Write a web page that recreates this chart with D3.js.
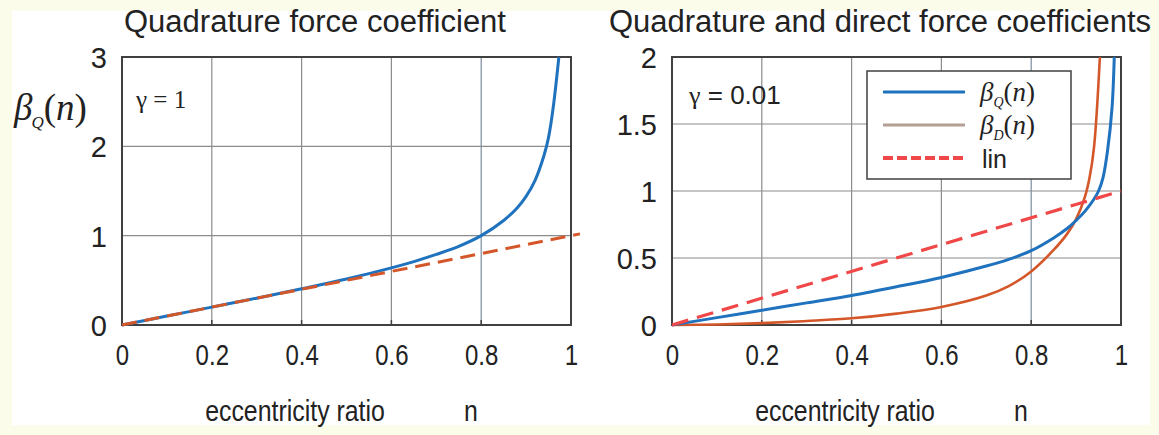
<!DOCTYPE html>
<html><head><meta charset="utf-8">
<script src="https://cdn.jsdelivr.net/npm/d3@7"></script>
<style>
body{margin:0;background:#fcfcea;}
svg{display:block;}
text{font-family:"Liberation Sans",Arial,sans-serif;fill:#222;}
.serif{font-family:"Liberation Serif","Times New Roman",serif;}
</style></head><body>
<script>
// ---- data ----
const xTicks = [0, 0.2, 0.4, 0.6, 0.8, 1];
const xTickLabels = ["0", "0.2", "0.4", "0.6", "0.8", "1"];
const leftYTicks = [0, 1, 2, 3];
const leftYTickLabels = ["0", "1", "2", "3"];
const rightYTicks = [0, 0.5, 1, 1.5, 2];
const rightYTickLabels = ["0", "0.5", "1", "1.5", "2"];

// left panel: gamma = 1
const leftQn = [0,0.1,0.2,0.3,0.4,0.5,0.6,0.65,0.7,0.75,0.8,0.85,0.88,0.9,0.92,0.94,0.95,0.96,0.973];
const leftQv = [0,0.1,0.2,0.3,0.405,0.515,0.64,0.71,0.79,0.88,1.0,1.17,1.31,1.44,1.62,1.9,2.1,2.42,3.0];
const leftLinN = [0, 1.02];
const leftLinV = [0, 1.02];

// right panel: gamma = 0.01
const rightQn = [0,0.1,0.2,0.3,0.4,0.5,0.6,0.7,0.75,0.8,0.85,0.88,0.9,0.92,0.94,0.95,0.96,0.97,0.98,0.985];
const rightQv = [0,0.055,0.11,0.165,0.22,0.285,0.355,0.44,0.49,0.555,0.65,0.72,0.78,0.85,0.94,1.0,1.1,1.3,1.62,2.0];
const rightDn = [0,0.1,0.2,0.3,0.4,0.5,0.6,0.7,0.75,0.8,0.85,0.88,0.9,0.92,0.93,0.94,0.953];
const rightDv = [0,0.004,0.014,0.03,0.05,0.085,0.135,0.22,0.29,0.4,0.56,0.68,0.79,0.96,1.1,1.33,2.0];
const rightLinN = [0, 1];
const rightLinV = [0, 1];

const titles = ["Quadrature force coefficient", "Quadrature and direct force coefficients"];
const xLabel = "eccentricity ratio";
const legendLabels = ["Q", "D", "lin"];

const W = 1159, H = 435;
const svg = d3.select("body").append("svg").attr("width", W).attr("height", H);

// background frame
svg.append("rect").attr("x", 12).attr("y", 11).attr("width", 1138).attr("height", 414).attr("fill", "#fff");

const blue = "#1f72bd", orange = "#d4572a", red = "#f04848", grid = "#8c8c8c", axisC = "#404040";

function panel(x0, x1, yMax, yTicks, yLabels) {
  const xs = d3.scaleLinear().domain([0, 1]).range([x0, x1]);
  const ys = d3.scaleLinear().domain([0, yMax]).range([325, 57]);
  const g = svg.append("g");
  g.selectAll(".gx").data(xTicks.slice(1, -1)).enter().append("line")
    .attr("x1", d => xs(d)).attr("x2", d => xs(d)).attr("y1", ys(0)).attr("y2", ys(yMax))
    .attr("stroke", (d) => d === 0.8 ? "#7a8b9c" : grid).attr("stroke-width", 1.2);
  g.selectAll(".gy").data(yTicks.slice(1, -1)).enter().append("line")
    .attr("x1", x0).attr("x2", x1).attr("y1", d => ys(d)).attr("y2", d => ys(d))
    .attr("stroke", grid).attr("stroke-width", 1.2);
  const xa = g.append("g").attr("transform", `translate(0,${ys(0)})`)
    .call(d3.axisBottom(xs).tickValues(xTicks).tickFormat((d, i) => xTickLabels[i]).tickSize(0).tickPadding(0));
  xa.select(".domain").remove();
  xa.selectAll("text").attr("y", 40).attr("dy", 0).attr("transform", "scale(0.8,1)")
    .style("font-size", "30px").attr("fill", "#222");
  const ya = g.append("g").attr("transform", `translate(${x0},0)`)
    .call(d3.axisLeft(ys).tickValues(yTicks).tickFormat((d, i) => yLabels[i]).tickSize(0).tickPadding(15));
  ya.select(".domain").remove();
  ya.selectAll("text").style("font-size", "29px").attr("fill", "#222").attr("dy", "0.36em");
  g.append("rect").attr("x", x0).attr("y", ys(yMax)).attr("width", x1 - x0).attr("height", ys(0) - ys(yMax))
    .attr("fill", "none").attr("stroke", axisC).attr("stroke-width", 2);
  g.selectAll(".tb").data(xTicks).enter().append("line")
    .attr("x1", d => xs(d)).attr("x2", d => xs(d)).attr("y1", ys(0)).attr("y2", ys(0) - 5)
    .attr("stroke", axisC).attr("stroke-width", 1.5);
  return {xs, ys, g};
}

const L = panel(122, 571, 3, leftYTicks, leftYTickLabels);
const R = panel(672, 1121, 2, rightYTicks, rightYTickLabels);

function drawLine(P, ns, vs, color, width, dash) {
  const line = d3.line().x(d => P.xs(d[0])).y(d => P.ys(d[1])).curve(d3.curveCatmullRom.alpha(0.5));
  const p = P.g.append("path").datum(ns.map((n, i) => [n, vs[i]]))
    .attr("d", line).attr("fill", "none").attr("stroke", color).attr("stroke-width", width)
    .attr("stroke-linejoin", "round");
  if (dash) p.attr("stroke-dasharray", dash);
  return p;
}

drawLine(L, leftQn, leftQv, blue, 3, null);
drawLine(L, leftLinN, leftLinV, orange, 3, "15,8");

drawLine(R, rightDn, rightDv, orange, 2.6, null);
drawLine(R, rightQn, rightQv, blue, 3, null);
drawLine(R, rightLinN, rightLinV, red, 3.2, "17,9");

// titles
svg.append("text").attr("x", 315).attr("y", 32).attr("text-anchor", "middle").style("font-size", "31px").text(titles[0]);
svg.append("text").attr("x", 880).attr("y", 32).attr("text-anchor", "middle").style("font-size", "31px").text(titles[1]);

// x labels (condensed)
function xlab(cx, nx) {
  svg.append("g").attr("transform", `translate(${cx},421)`).append("text")
    .attr("transform", "scale(0.83,1)").attr("text-anchor", "middle").style("font-size", "30px").text(xLabel);
  svg.append("g").attr("transform", `translate(${nx},421)`).append("text")
    .attr("transform", "scale(0.83,1)").attr("text-anchor", "middle").style("font-size", "30px").text("n");
}
xlab(295, 471);
xlab(845, 1021);

// gamma annotations
svg.append("text").attr("class", "serif").attr("x", 136).attr("y", 108).style("font-size", "25px").text("γ = 1");
const gr = svg.append("text").attr("x", 689).attr("y", 104).style("font-size", "26px");
gr.append("tspan").attr("class", "serif").text("γ");
gr.append("tspan").text(" = 0.01");

// y-axis label beta_Q(n)
const yl = svg.append("text").attr("class", "serif").attr("x", 14).attr("y", 120).attr("fill", "#2a2222").style("font-size", "37px");
yl.append("tspan").style("font-style", "italic").text("β");
yl.append("tspan").style("font-style", "italic").style("font-size", "17px").attr("dy", 8).attr("dx", -1).text("Q");
yl.append("tspan").attr("dy", -8).text("(");
yl.append("tspan").style("font-style", "italic").text("n");
yl.append("tspan").text(")");

// legend
const lg = svg.append("g");
lg.append("rect").attr("x", 867).attr("y", 71).attr("width", 204).attr("height", 108)
  .attr("fill", "#fff").attr("stroke", "#404040").attr("stroke-width", 1.5);
const legColors = [blue, "#b39f94", red];
const legY = [92, 125, 158];
legendLabels.forEach((lab, i) => {
  const ln = lg.append("line").attr("x1", 883).attr("x2", 965).attr("y1", legY[i]).attr("y2", legY[i])
    .attr("stroke", legColors[i]).attr("stroke-width", i === 2 ? 4 : 3);
  if (i === 2) ln.attr("stroke-dasharray", "10,4");
  if (i < 2) {
    const t = lg.append("text").attr("class", "serif").attr("x", 980).attr("y", legY[i] + 9).style("font-size", "27px");
    t.append("tspan").style("font-style", "italic").text("β");
    t.append("tspan").style("font-style", "italic").style("font-size", "14px").attr("dy", 6).text(lab);
    t.append("tspan").attr("dy", -6).text("(");
    t.append("tspan").style("font-style", "italic").text("n");
    t.append("tspan").text(")");
  } else {
    lg.append("text").attr("x", 982).attr("y", legY[i] + 10).style("font-size", "25px").text(lab);
  }
});
</script>
</body></html>
